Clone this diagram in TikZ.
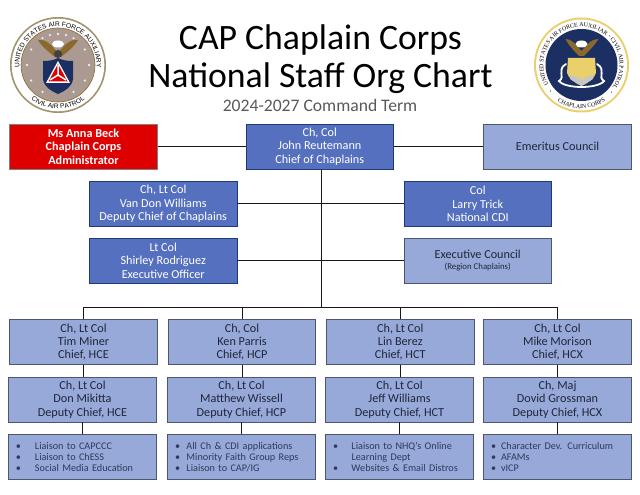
\documentclass[tikz,border=0pt]{standalone}
\usepackage{fontspec}
\setmainfont{Carlito}
\newfontfamily\sealfont{Liberation Sans}
\newfontfamily\crestfont{Liberation Serif}
\usetikzlibrary{calc}
\usetikzlibrary{decorations.text}
\newcommand{\bul}[2]{\makebox[#1][l]{\textbullet}#2}
\definecolor{darkblue}{HTML}{5570BE}
\definecolor{darkedge}{HTML}{1F3A78}
\definecolor{lightblue}{HTML}{96A9D9}
\definecolor{lightedge}{HTML}{4C5670}
\definecolor{capred}{HTML}{DE0000}
\definecolor{inktext}{HTML}{20263A}
\definecolor{listtext}{HTML}{2F3A5C}
\definecolor{taupe}{HTML}{AB9A92}
\definecolor{navy}{HTML}{1B2F63}
\definecolor{crestgold}{HTML}{EBCF6A}
\definecolor{eaglebrown}{HTML}{8A6A2C}
\tikzset{
  orgbox/.style={draw,line width=0.9pt,minimum width=147.5pt,minimum height=45pt,inner sep=0pt,align=center,font=\fontsize{12.2}{13.4}\selectfont},
  boxdark/.style={orgbox,fill=darkblue,draw=darkedge,text=white},
  boxlight/.style={orgbox,fill=lightblue,draw=lightedge,text=inktext},
  boxred/.style={orgbox,fill=capred,draw=gray,text=white},
  boxlist/.style={draw=lightedge,line width=0.9pt,fill=lightblue,text=listtext,minimum height=45pt,text width=133pt,inner xsep=7.25pt,inner ysep=0pt,align=left,font=\fontsize{10.2}{11.3}\selectfont},
  wire/.style={line width=1pt,black!90},
  seal/.style={decorate,decoration={text along path,text align=center,text={#1}}}
}
\begin{document}
\begin{tikzpicture}[x=1pt,y=1pt]
\useasboundingbox (0,0) rectangle (640,495);

\node[font=\fontsize{35.7}{37.5}\selectfont,align=center] (title) at (320.5,436) {CAP Chaplain Corps\\National Staff Org Chart};
\node[font=\fontsize{17.6}{18}\selectfont,text=black!65] (term) at (320,389.5) {2024-2027 Command Term};

\fill[taupe!75!olive] (58,430) circle (48);
\fill[white] (58,430) circle (46.3);
\fill[taupe] (58,430) circle (37);
\draw[eaglebrown,line width=0.6pt] (58,430) circle (37);
\path[seal={|\fontsize{6.6}{7}\sealfont|UNITED STATES AIR FORCE AUXILIARY}] (58,430) ++(188:38.6) arc (188:-8:38.6);
\path[seal={|\fontsize{6.6}{7}\sealfont|CIVIL AIR PATROL}] (58,430) ++(226:43.6) arc (226:314:43.6);
\foreach \a in {-60,-30,0,30,60,120,150,180,210,240,75,90,105} \fill[white!85!gray] (58,430) ++(\a:31) circle (1.3);
\fill[eaglebrown] (58,442) .. controls (50,452) and (45,456) .. (38,455) .. controls (42,448) and (50,442) .. (55,438) -- (61,438) .. controls (66,442) and (74,448) .. (78,455) .. controls (71,456) and (66,452) .. (58,442);
\fill[white] (58,451) ellipse (6 and 3.5);
\fill[black!75] (58,441) circle (4);
\fill[navy] (43,434) .. controls (50,434) and (54,435) .. (58,437) .. controls (62,435) and (66,434) .. (73,434) -- (73,416) .. controls (72,408) and (65,404) .. (58,401) .. controls (51,404) and (44,408) .. (43,416) -- cycle;
\fill[white] (58,434) -- (46,412) -- (70,412) -- cycle;
\fill[capred] (58,431) -- (48.5,413.5) -- (67.5,413.5) -- cycle;
\draw[white,line width=1.5pt] (58,430) -- (58,420) -- (50,415) (58,420) -- (66,415);

\fill[crestgold] (581.5,430) circle (47.5);
\fill[white] (581.5,430) circle (45.5);
\fill[navy] (581.5,430) circle (36);
\path[seal={|\fontsize{5.9}{7}\crestfont|UNITED STATES AIR FORCE AUXILIARY}] (581.5,430) ++(205:38.2) arc (205:50:38.2);
\path[seal={|\fontsize{5.9}{7}\crestfont|CIVIL AIR PATROL}] (581.5,430) ++(42:38.2) arc (42:-36:38.2);
\path[seal={|\fontsize{6}{7}\crestfont|CHAPLAIN CORPS}] (581.5,430) ++(232:43.4) arc (232:308:43.4);
\foreach \a in {46,-42,220} \fill[navy] (581.5,430) ++(\a:40.5) circle (0.6);
\fill[eaglebrown] (581.5,444) .. controls (575,452) and (571,456) .. (565.5,456) .. controls (569,449) and (575,443) .. (579,439) -- (584,439) .. controls (588,443) and (594,449) .. (598.5,456) .. controls (592,456) and (588,452) .. (581.5,444);
\fill[white] (581.5,451) ellipse (6 and 3.5);
\fill[crestgold] (568,437) -- (595,437) -- (596,422) .. controls (594,416) and (588,412) .. (581.5,409) .. controls (575,412) and (569,416) .. (567,422) -- cycle;
\fill[gray!45] (570,420) .. controls (575,418) and (579,418) .. (581.5,415) .. controls (584,418) and (588,418) .. (593,420) -- (593,416) -- (581.5,409) -- (570,416) -- cycle;
\draw[white,line width=1.8pt,line cap=round] (566,431) .. controls (556,425) and (566,418) .. (559,414) .. controls (565,406) and (598,406) .. (604,414) .. controls (597,418) and (607,425) .. (597,431);

\node[boxred] (admin) at (83.5,348.25) {\textbf{Ms Anna Beck}\\\textbf{Chaplain Corps}\\\textbf{Administrator}};
\node[boxdark] (chief) at (319.75,348.25) {Ch, Col\\John Reutemann\\Chief of Chaplains};
\node[boxlight] (emeritus) at (557.5,348.25) {Emeritus Council};

\node[boxdark] (van) at (163.25,291) {Ch, Lt Col\\Van Don Williams\\Deputy Chief of Chaplains};
\node[boxdark] (larry) at (477.75,291) {Col\\Larry Trick\\National CDI};
\node[boxdark] (shirley) at (163.25,234.5) {Lt Col\\Shirley Rodriguez\\Executive Officer};
\node[boxlight] (council) at (477.75,234.5) {Executive Council\\[-2pt]{\fontsize{8.8}{9}\selectfont (Region Chaplains)}};

\node[boxlight] (hce) at (83.5,153) {Ch, Lt Col\\Tim Miner\\Chief, HCE};
\node[boxlight] (hcp) at (242,153) {Ch, Col\\Ken Parris\\Chief, HCP};
\node[boxlight] (hct) at (400.25,153) {Ch, Lt Col\\Lin Berez\\Chief, HCT};
\node[boxlight] (hcx) at (557.5,153) {Ch, Lt Col\\Mike Morison\\Chief, HCX};

\node[boxlight] (dhce) at (82.5,95.5) {Ch, Lt Col\\Don Mikitta\\Deputy Chief, HCE};
\node[boxlight] (dhcp) at (241.5,95.5) {Ch, Lt Col\\Matthew Wissell\\Deputy Chief, HCP};
\node[boxlight] (dhct) at (399.5,95.5) {Ch, Lt Col\\Jeff Williams\\Deputy Chief, HCT};
\node[boxlight] (dhcx) at (557.5,95.5) {Ch, Maj\\Dovid Grossman\\Deputy Chief, HCX};

\node[boxlist] (lhce) at (82.5,38) {\bul{19pt}{Liaison to CAPCCC}\\\bul{19pt}{Liaison to ChESS}\\\bul{19pt}{Social Media Education}};
\node[boxlist] (lhcp) at (241.5,38) {\bul{11.5pt}{All Ch \& CDI applications}\\\bul{11.5pt}{Minority Faith Group Reps}\\\bul{11.5pt}{Liaison to CAP/IG}};
\node[boxlist] (lhct) at (399.5,38) {\bul{18.5pt}{Liaison to NHQ’s Online}\\\hspace*{18.5pt}Learning Dept\\\bul{18.5pt}{Websites \& Email Distros}};
\node[boxlist] (lhcx) at (557.5,38) {\bul{10pt}{Character Dev. Curriculum}\\\bul{10pt}{AFAMs}\\\bul{10pt}{vICP}};

\coordinate (trunk) at (321,187);

\draw[wire] (admin) -- (chief);
\draw[wire] (chief) -- (emeritus);
\draw[wire] (trunk |- chief.south) -- (trunk);
\draw[wire] (van.east) -- (van.east -| trunk);
\draw[wire] (larry.west) -- (larry.west -| trunk);
\draw[wire] (shirley.east) -- (shirley.east -| trunk);
\draw[wire] (council.west) -- (council.west -| trunk);

\draw[wire] (hce.north) |- (hcx.north |- trunk) -- (hcx.north);
\draw[wire] (hcp.north) -- (hcp.north |- trunk);
\draw[wire] (hct.north) -- (hct.north |- trunk);

\draw[wire] (hce.south) -- (hce.south |- dhce.north);
\draw[wire] (hcp.south) -- (hcp.south |- dhcp.north);
\draw[wire] (hct.south) -- (hct.south |- dhct.north);
\draw[wire] (hcx.south) -- (dhcx.north);

\draw[wire] (dhce.south) -- (lhce.north);
\draw[wire] (dhcp.south) -- (lhcp.north);
\draw[wire] (dhct.south) -- (lhct.north);
\draw[wire] (dhcx.south) -- (lhcx.north);
\end{tikzpicture}
\end{document}
